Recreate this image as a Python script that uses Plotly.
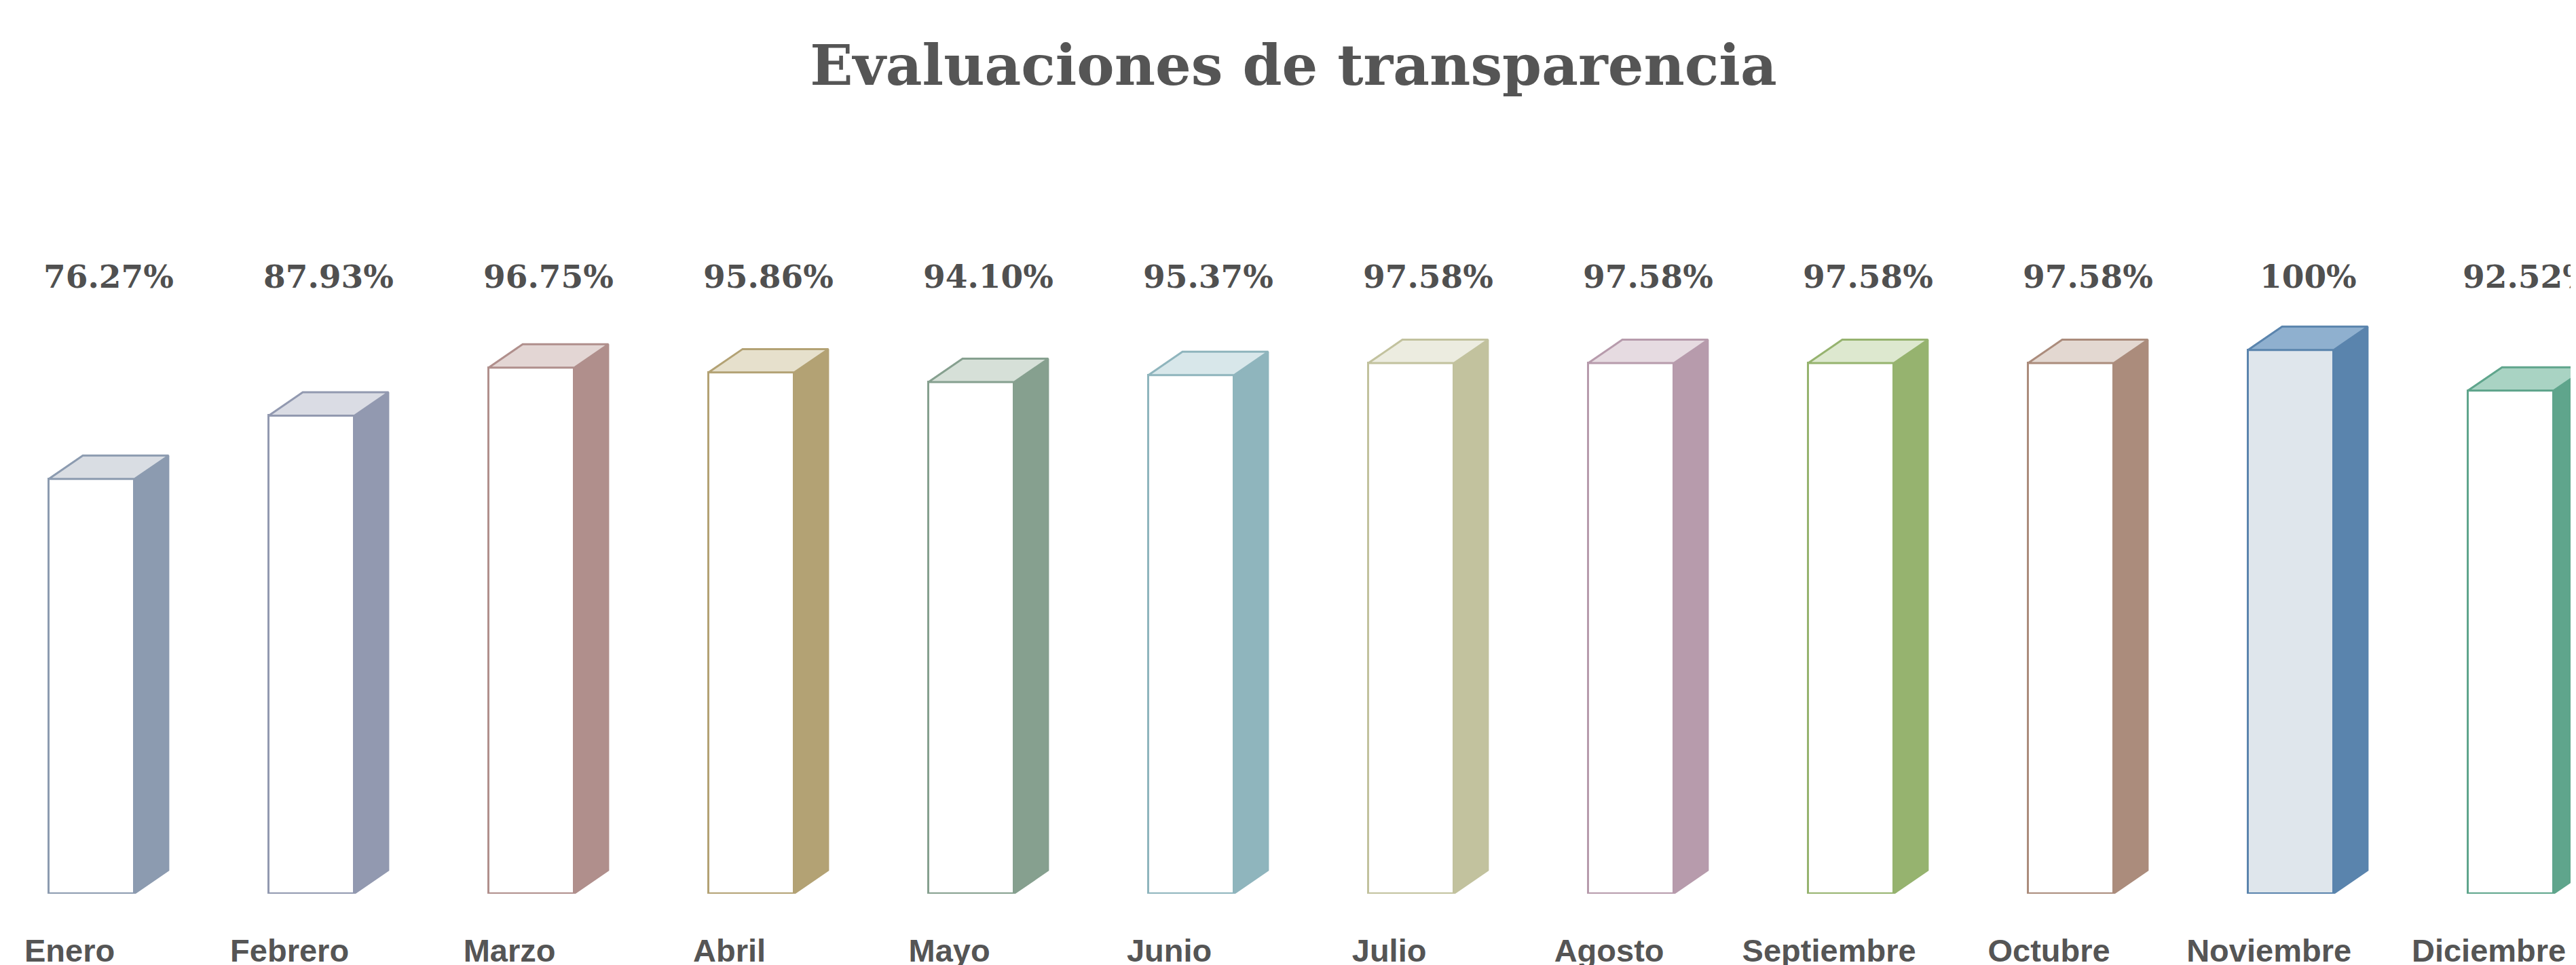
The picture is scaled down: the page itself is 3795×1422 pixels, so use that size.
import plotly.graph_objects as go

# ---- data ----
months = ["Enero", "Febrero", "Marzo", "Abril", "Mayo", "Junio", "Julio",
          "Agosto", "Septiembre", "Octubre", "Noviembre", "Diciembre"]
values = [76.27, 87.93, 96.75, 95.86, 94.10, 95.37, 97.58, 97.58, 97.58, 97.58, 100, 92.52]
value_labels = ["76.27%", "87.93%", "96.75%", "95.86%", "94.10%", "95.37%", "97.58%",
                "97.58%", "97.58%", "97.58%", "100%", "92.52%"]
side_colors = ["#8c9bb0", "#9299b0", "#b08f8c", "#b3a274", "#86a08f", "#8fb5bd",
               "#c2c29e", "#b79bac", "#96b36f", "#ab8c7c", "#5a84ad", "#5fa58c"]
top_colors = ["#d9dde3", "#dadce4", "#e3d6d4", "#e6e0cc", "#d6e0d8", "#d8e7ea",
              "#ecece0", "#e6dbe1", "#dde8cf", "#e3d8d1", "#8fb0cf", "#a9d3c3"]
front_fills = ["#ffffff"] * 10 + ["#dfe6ec", "#ffffff"]

# ---- geometry (style) ----
BAR_W = 0.39
DX = 0.155
DY = 4.3
LABEL_Y = 113.5
TICK_SHIFT = -0.1

x = list(range(len(months)))
fig = go.Figure()

# front faces
fig.add_trace(go.Bar(
    x=x, y=values, width=BAR_W,
    marker=dict(color=front_fills, line=dict(color=side_colors, width=3)),
    hoverinfo="skip", showlegend=False,
))

# side and top faces derived from the values
for i, v in enumerate(values):
    xl = x[i] - BAR_W / 2
    xr = x[i] + BAR_W / 2
    fig.add_trace(go.Scatter(
        x=[xr, xr + DX, xr + DX, xr, xr],
        y=[0, DY, v + DY, v, 0],
        mode="lines", fill="toself", fillcolor=side_colors[i],
        line=dict(color=side_colors[i], width=2),
        hoverinfo="skip", showlegend=False,
    ))
    fig.add_trace(go.Scatter(
        x=[xl, xl + DX, xr + DX, xr, xl],
        y=[v, v + DY, v + DY, v, v],
        mode="lines", fill="toself", fillcolor=top_colors[i],
        line=dict(color=side_colors[i], width=3),
        hoverinfo="skip", showlegend=False,
    ))

# value labels in a row above the bars
for i, lab in enumerate(value_labels):
    fig.add_annotation(
        x=x[i] + DX / 2, y=LABEL_Y, xref="x", yref="y", text=lab,
        showarrow=False,
        font=dict(family="DejaVu Serif", size=47, color="#505050", weight="bold"),
    )

fig.update_layout(
    width=3795, height=1422,
    paper_bgcolor="white", plot_bgcolor="white",
    margin=dict(l=0, r=0, t=107, b=113, autoexpand=False),
    title=dict(
        text="<b>Evaluaciones de transparencia</b>",
        x=0.5, xanchor="center", y=1 - 88 / 1422, yanchor="middle",
        font=dict(family="DejaVu Serif", size=83, color="#555555"),
    ),
    xaxis=dict(
        range=[-0.392, 11.321], tickvals=[i + TICK_SHIFT for i in x], ticktext=months,
        showgrid=False, zeroline=False, showline=False, ticks="",
        ticklabelstandoff=52, ticklabeloverflow="allow", automargin=False,
        tickfont=dict(family="Liberation Sans", size=47, color="#555555", weight="bold"),
    ),
    yaxis=dict(range=[0, 150], visible=False, automargin=False),
    bargap=0,
)

fig.write_html("out.html")
